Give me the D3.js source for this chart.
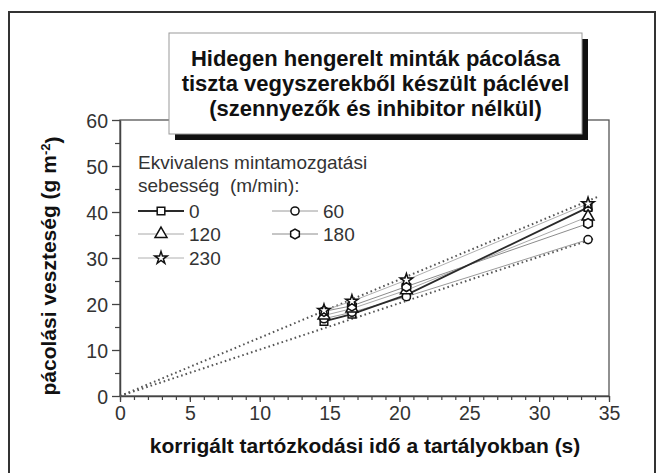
<!DOCTYPE html>
<html>
<head>
<meta charset="utf-8">
<script src="https://cdn.jsdelivr.net/npm/d3@7"></script>
<style>
  html, body { margin: 0; padding: 0; background: #fff; }
  svg { display: block; font-family: "Liberation Sans", Arial, sans-serif; }
</style>
</head>
<body>
<script>
// residence times (s) where the samples were measured
const times = [14.6, 16.6, 20.5, 33.5]

// weight loss (g m-2) per sample speed
const speeds = ['0', '60', '120', '180', '230']
const loss0 = [16.2, 17.8, 22.0, 41.0]
const loss60 = [16.8, 18.2, 21.6, 34.0]
const loss120 = [17.5, 19.0, 23.0, 39.0]
const loss180 = [18.4, 19.6, 23.8, 37.5]
const loss230 = [18.6, 20.6, 25.2, 41.8]

// dotted envelope lines through the origin
const upperBound = [[0, 0], [34.2, 43.3]]
const lowerBound = [[0, 0], [34.0, 34.3]]

const xTicks = [0, 5, 10, 15, 20, 25, 30, 35]
const yTicks = [0, 10, 20, 30, 40, 50, 60]

const titleLines = [
  'Hidegen hengerelt minták pácolása',
  'tiszta vegyszerekből készült páclével',
  '(szennyezők és inhibitor nélkül)',
]
const legendTitle = ['Ekvivalens mintamozgatási', 'sebesség\u00a0 (m/min):']

const WIDTH = 660
const HEIGHT = 473

const series = [
  { name: speeds[0], values: loss0, symbol: 'square', color: '#2a2a2a', width: 1.8 },
  { name: speeds[1], values: loss60, symbol: 'circle', color: '#9a9a9a', width: 1 },
  { name: speeds[2], values: loss120, symbol: 'triangle', color: '#a8a8a8', width: 1 },
  { name: speeds[3], values: loss180, symbol: 'hexagon', color: '#8c8c8c', width: 1 },
  { name: speeds[4], values: loss230, symbol: 'star', color: '#b0b0b0', width: 1 },
]

const svg = d3.select('body')
  .append('svg')
  .attr('width', WIDTH)
  .attr('height', HEIGHT)
  .attr('viewBox', `0 0 ${WIDTH} ${HEIGHT}`)

// outer frame
svg.append('rect')
  .attr('x', 9).attr('y', 12)
  .attr('width', 646).attr('height', 480)
  .attr('fill', '#fff')
  .attr('stroke', '#333')
  .attr('stroke-width', 2)

const x = d3.scaleLinear().domain([0, 35]).range([120, 609])
const y = d3.scaleLinear().domain([0, 60]).range([396, 120])

// plot frame
svg.append('rect')
  .attr('x', x(0)).attr('y', y(60))
  .attr('width', x(35) - x(0)).attr('height', y(0) - y(60))
  .attr('fill', 'none')
  .attr('stroke', '#555')
  .attr('stroke-width', 1.3)

// minor ticks
svg.append('g')
  .attr('transform', `translate(0,${y(0)})`)
  .call(d3.axisBottom(x).tickValues(d3.range(0, 36, 1)).tickSize(4).tickFormat(''))
  .call(g => g.select('.domain').remove())
  .call(g => g.selectAll('line').attr('stroke', '#444').attr('stroke-width', 1.2))

svg.append('g')
  .attr('transform', `translate(${x(0)},0)`)
  .call(d3.axisLeft(y).tickValues(d3.range(5, 60, 10)).tickSize(5).tickFormat(''))
  .call(g => g.select('.domain').remove())
  .call(g => g.selectAll('line').attr('stroke', '#444').attr('stroke-width', 1.2))

// major axes
const xAxis = svg.append('g')
  .attr('transform', `translate(0,${y(0)})`)
  .call(d3.axisBottom(x).tickValues(xTicks).tickSize(6).tickSizeOuter(0).tickPadding(4))
const yAxis = svg.append('g')
  .attr('transform', `translate(${x(0)},0)`)
  .call(d3.axisLeft(y).tickValues(yTicks).tickSize(8).tickSizeOuter(0).tickPadding(4))

;[xAxis, yAxis].forEach(ax => {
  ax.select('.domain').attr('stroke', '#444').attr('stroke-width', 1.5)
  ax.selectAll('line').attr('stroke', '#444').attr('stroke-width', 1.3)
  ax.selectAll('text')
    .attr('fill', '#333')
    .style('font-size', '19.5px')
    .style('font-family', '"Liberation Sans", Arial, sans-serif')
})
yAxis.selectAll('text').attr('dy', '0.36em')

// envelope lines
const line = d3.line().x(d => x(d[0])).y(d => y(d[1]))
;[upperBound, lowerBound].forEach(b => {
  svg.append('path')
    .attr('d', line(b))
    .attr('fill', 'none')
    .attr('stroke', '#555')
    .attr('stroke-width', 2)
    .attr('stroke-dasharray', '1.6,3')
})

// marker shapes
function symbolPath(type, size) {
  if (type === 'hexagon') {
    const r = size
    const pts = d3.range(6).map(i => {
      const a = Math.PI / 6 + i * Math.PI / 3
      return [r * Math.cos(a), r * Math.sin(a)]
    })
    return 'M' + pts.join('L') + 'Z'
  }
  const map = {
    square: [d3.symbolSquare, 58],
    circle: [d3.symbolCircle, 52],
    triangle: [d3.symbolTriangle, 62],
    star: [d3.symbolStar, 48],
  }
  const [t, s] = map[type]
  return d3.symbol().type(t).size(s)()
}

// series lines (grey first, dark one on top)
const lineSeries = d3.line().x((d, i) => x(times[i])).y(d => y(d))
series.slice().reverse().forEach(s => {
  svg.append('path')
    .attr('d', lineSeries(s.values))
    .attr('fill', 'none')
    .attr('stroke', s.color)
    .attr('stroke-width', s.width)
})

series.forEach(s => {
  svg.append('g')
    .selectAll('path')
    .data(s.values)
    .join('path')
    .attr('transform', (d, i) => `translate(${x(times[i])},${y(d)})`)
    .attr('d', symbolPath(s.symbol, 5))
    .attr('fill', '#fff')
    .attr('stroke', '#111')
    .attr('stroke-width', 1.5)
})

// legend
const legend = svg.append('g')
  .style('font-size', '19px')
  .attr('fill', '#333')

legend.selectAll('text.ltitle')
  .data(legendTitle)
  .join('text')
  .attr('class', 'ltitle')
  .attr('x', 138)
  .attr('y', (d, i) => 169 + i * 23)
  .text(d => d)

const legendPos = [
  { x: 138, y: 211 },
  { x: 272, y: 211 },
  { x: 138, y: 234 },
  { x: 272, y: 234 },
  { x: 138, y: 258 },
]

series.forEach((s, i) => {
  const p = legendPos[i]
  const item = legend.append('g').attr('transform', `translate(${p.x},${p.y})`)
  item.append('line')
    .attr('x1', 0).attr('x2', 46)
    .attr('stroke', s.color)
    .attr('stroke-width', s.width)
  item.append('path')
    .attr('transform', 'translate(23,0)')
    .attr('d', symbolPath(s.symbol, 5))
    .attr('fill', '#fff')
    .attr('stroke', '#111')
    .attr('stroke-width', 1.5)
  item.append('text')
    .attr('x', 51)
    .attr('dy', '0.36em')
    .text(s.name)
})

// title box with shadow
svg.append('rect')
  .attr('x', 175).attr('y', 39)
  .attr('width', 413).attr('height', 101)
  .attr('fill', '#111')
svg.append('rect')
  .attr('x', 169).attr('y', 33)
  .attr('width', 413).attr('height', 101)
  .attr('fill', '#fff')
  .attr('stroke', '#999')
  .attr('stroke-width', 1)

svg.append('g')
  .selectAll('text')
  .data(titleLines)
  .join('text')
  .attr('x', 375.5)
  .attr('y', (d, i) => 66 + i * 25)
  .attr('text-anchor', 'middle')
  .style('font-size', '22px')
  .style('font-weight', 'bold')
  .attr('fill', '#111')
  .text(d => d)

// axis titles
svg.append('text')
  .attr('x', 365)
  .attr('y', 453)
  .attr('text-anchor', 'middle')
  .style('font-size', '21px')
  .style('font-weight', 'bold')
  .attr('fill', '#111')
  .text('korrigált tartózkodási idő a tartályokban (s)')

const yTitle = svg.append('text')
  .attr('transform', 'translate(56,266) rotate(-90)')
  .attr('text-anchor', 'middle')
  .style('font-size', '21px')
  .style('font-weight', 'bold')
  .attr('fill', '#111')
yTitle.append('tspan').text('pácolási veszteség (g m')
yTitle.append('tspan').attr('dy', '-0.45em').style('font-size', '13px').text('-2')
yTitle.append('tspan').attr('dy', '0.45em').text(')')
</script>
</body>
</html>
